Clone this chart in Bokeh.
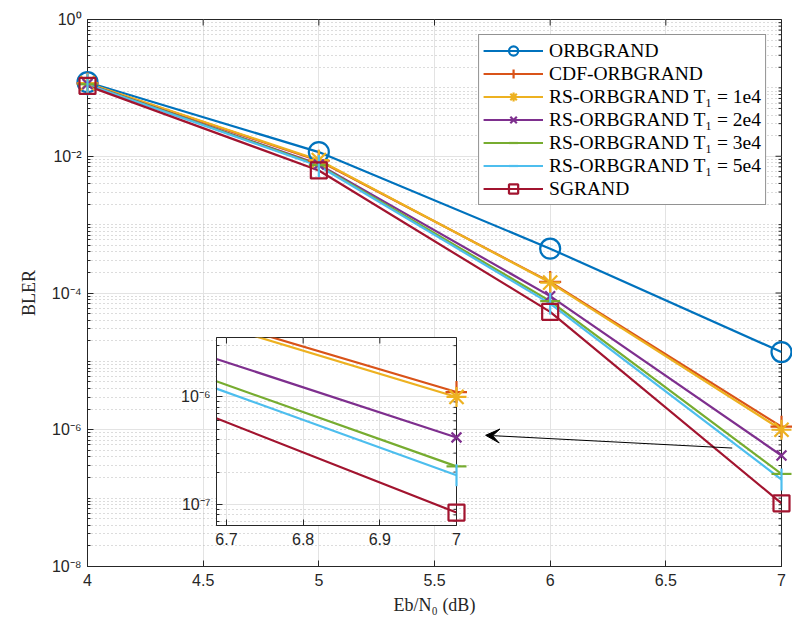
import math
from bokeh.plotting import figure
from bokeh.models import (FixedTicker, CustomJSTickFormatter,
                          Legend, LegendItem, Arrow, VeeHead, Range1d, Column)
from bokeh.embed import file_html
from bokeh.resources import INLINE

# ---------------- data ----------------
ebn0 = [4, 5, 6, 7]
orbgrand = [1.21e-1, 1.15e-2, 4.45e-4, 1.37e-5]
cdf_orbgrand = [1.16e-1, 8.6e-3, 1.45e-4, 1.11e-6]
rs_orbgrand_1e4 = [1.17e-1, 8.8e-3, 1.42e-4, 1.0e-6]
rs_orbgrand_2e4 = [1.14e-1, 7.6e-3, 9.0e-5, 4.2e-7]
rs_orbgrand_3e4 = [1.13e-1, 7.4e-3, 7.6e-5, 2.26e-7]
rs_orbgrand_5e4 = [1.12e-1, 7.2e-3, 7.0e-5, 1.87e-7]
sgrand = [1.07e-1, 6.2e-3, 5.3e-5, 8.4e-8]

labels = ["ORBGRAND", "CDF-ORBGRAND", "RS-ORBGRAND T\u2081 = 1e4", "RS-ORBGRAND T\u2081 = 2e4",
          "RS-ORBGRAND T\u2081 = 3e4", "RS-ORBGRAND T\u2081 = 5e4", "SGRAND"]
values = [orbgrand, cdf_orbgrand, rs_orbgrand_1e4, rs_orbgrand_2e4,
          rs_orbgrand_3e4, rs_orbgrand_5e4, sgrand]
colors = ["#0072BD", "#D95319", "#EDB120", "#7E2F8E", "#77AC30", "#4DBEEE", "#A2142F"]
markers = ["circle", "cross", "asterisk", "x", "dash", "dash", "square"]
marker_sizes = [20, 22, 20, 14, 20, 22, 16]
marker_angles = [0, 0, 0, 0, 0, math.pi / 2, 0]

x_ticks = [4, 4.5, 5, 5.5, 6, 6.5, 7]
y_ticks = [1e0, 1e-2, 1e-4, 1e-6, 1e-8]
inset_x_ticks = [6.7, 6.8, 6.9, 7]
inset_y_ticks = [1e-6, 1e-7]

y_minor = [m * 10.0 ** k for k in range(-8, 0) for m in range(1, 10) if not (m == 1 and k % 2 == 0)]
inset_y_minor = [m * 10.0 ** k for k in range(-8, -5) for m in range(2, 10)]

AX = "#262626"
SANS = "Liberation Sans"
SERIF = "Liberation Serif"

sup_fmt = CustomJSTickFormatter(code="""
const sup = {"-": "\\u207b", "0": "\\u2070", "1": "\\u00b9", "2": "\\u00b2", "3": "\\u00b3",
             "4": "\\u2074", "5": "\\u2075", "6": "\\u2076", "7": "\\u2077", "8": "\\u2078", "9": "\\u2079"};
const e = Math.round(Math.log10(tick));
return "10" + String(e).split("").map(c => sup[c]).join("");
""")


def style_axis(ax):
    ax.axis_line_color = AX
    ax.major_tick_line_color = AX
    ax.minor_tick_line_color = AX
    ax.major_tick_in = 6
    ax.major_tick_out = 0
    ax.minor_tick_in = 3
    ax.minor_tick_out = 0
    ax.major_label_text_font = SANS
    ax.major_label_text_font_size = "16px"
    ax.major_label_text_color = AX


def build(fig, xt, yt, ymin, xmax, ymax):
    xtick = FixedTicker(ticks=xt, minor_ticks=[])
    ytick = FixedTicker(ticks=yt, minor_ticks=ymin)
    bottom = fig.xaxis[0]
    left = fig.yaxis[0]
    bottom.ticker = xtick
    left.ticker = ytick
    left.formatter = sup_fmt
    style_axis(bottom)
    style_axis(left)
    bottom.major_label_standoff = 7
    left.major_label_standoff = 6
    fig.xgrid.grid_line_color = "#e3e3e3"
    fig.ygrid.grid_line_color = "#e3e3e3"
    fig.ygrid.minor_grid_line_color = "#b8b8b8"
    fig.ygrid.minor_grid_line_dash = "1 3"
    fig.outline_line_color = AX
    # inward ticks on the right and top edges of the box (outer halves are clipped by the frame)
    fig.scatter([xmax] * len(yt), yt, marker="dash", size=12, line_color=AX, line_width=1)
    fig.scatter([xmax] * len(ymin), ymin, marker="dash", size=6, line_color=AX, line_width=1)
    fig.scatter(xt, [ymax] * len(xt), marker="dash", angle=math.pi / 2, size=12,
                line_color=AX, line_width=1)
    return bottom, left


# side borders shared by both figures (a column aligns its plots' side borders)
LEFT_B, RIGHT_B = 87, 11

# ---------------- main figure ----------------
p = figure(width=792, height=622, y_axis_type="log",
           x_range=Range1d(4, 7), y_range=Range1d(1e-8, 1),
           output_backend="svg", toolbar_location=None,
           min_border_left=LEFT_B, min_border_right=RIGHT_B, min_border_top=19, min_border_bottom=56)
xa, ya = build(p, x_ticks, y_ticks, y_minor, 7, 1)
xa.axis_label = "Eb/N\u2080 (dB)"
ya.axis_label = "BLER"
for ax in (xa, ya):
    ax.axis_label_text_font = SERIF
    ax.axis_label_text_font_size = "18px"
    ax.axis_label_text_font_style = "normal"
    ax.axis_label_text_color = AX
xa.axis_label_standoff = 6
ya.axis_label_standoff = 10

items = []
for lab, vals, col, mk, ms, ang in zip(labels, values, colors, markers, marker_sizes, marker_angles):
    lr = p.line(ebn0, vals, line_color=col, line_width=2.2)
    sr = p.scatter(ebn0, vals, marker=mk, size=ms, angle=ang, line_color=col,
                   fill_color=None, line_width=2.2)
    sr.level = "overlay"
    items.append(LegendItem(label=lab, renderers=[lr, sr]))

legend = Legend(items=items, location="top_right", margin=15, padding=4,
                spacing=0, glyph_height=23, glyph_width=60, label_standoff=6,
                label_text_font=SERIF, label_text_font_size="19.5px", label_text_color="black",
                border_line_color=AX, border_line_width=1, background_fill_alpha=1)
p.add_layout(legend)

p.add_layout(Arrow(end=VeeHead(size=14, fill_color="black", line_color="black"),
                   x_start=6.787, y_start=5.4e-7, x_end=5.721, y_end=8.3e-7,
                   line_color="black", line_width=1))

# ---------------- inset ----------------
inset = figure(width=LEFT_B + 240 + RIGHT_B, height=5 + 188 + 30, y_axis_type="log",
               x_range=Range1d(6.687, 7.0), y_range=Range1d(10 ** -7.196, 10 ** -5.447),
               output_backend="svg", toolbar_location=None,
               min_border_left=LEFT_B, min_border_right=RIGHT_B, min_border_top=5, min_border_bottom=30,
               background_fill_color="white", border_fill_alpha=0)
inset.styles = {"position": "absolute", "left": f"{216 - LEFT_B}px",
                "top": f"{337 - 5}px", "z-index": "2"}
build(inset, inset_x_ticks, inset_y_ticks, inset_y_minor, 7.0, 10 ** -5.447)
for vals, col, mk, ms, ang in zip(values, colors, markers, marker_sizes, marker_angles):
    inset.line(ebn0, vals, line_color=col, line_width=2.2)
    sr = inset.scatter(ebn0, vals, marker=mk, size=ms, angle=ang, line_color=col,
                       fill_color=None, line_width=2.2)
    sr.level = "overlay"

layout = Column(children=[p, inset])
open("out.html", "w").write(file_html(layout, INLINE))
